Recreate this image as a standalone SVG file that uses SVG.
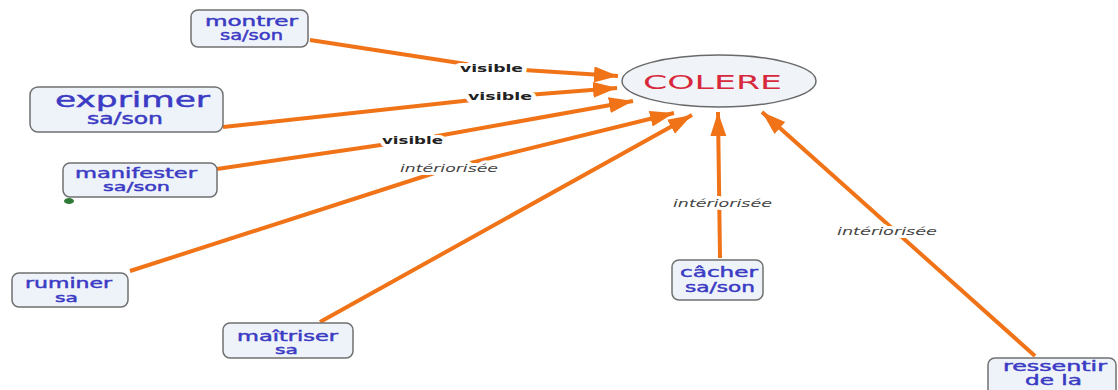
<svg xmlns="http://www.w3.org/2000/svg" width="1118" height="390" viewBox="0 0 1118 390">
<defs>
<marker id="arr" markerUnits="userSpaceOnUse" markerWidth="26" markerHeight="18" refX="24" refY="8" orient="auto"><path d="M0,0 L24,8 L0,16 z" fill="#f07318"/></marker>
<style>
.box{fill:#eef3f9;stroke:#707070;stroke-width:1.5}
.nt{font-family:"DejaVu Sans",Verdana,sans-serif;fill:#3b3bc4;stroke:#3b3bc4;stroke-width:0.45;text-anchor:start}
.ln{fill:none;stroke:#f07318;stroke-width:4;stroke-linejoin:round;marker-end:url(#arr)}
.lb{font-family:"DejaVu Sans",Verdana,sans-serif;font-size:11px;fill:#222;stroke:#fff;stroke-width:6;paint-order:stroke;stroke-linejoin:round}
.vis{font-weight:bold}
.int{font-style:italic;fill:#444}
</style>
</defs>
<rect width="1118" height="390" fill="#fff"/>
<g id="connectors">
<path class="ln" d="M310,40 L492,68 L618,76"/>
<path class="ln" d="M223,127 L500,97 L617,88"/>
<path class="ln" d="M217,169 L415,140 L633,101"/>
<path class="ln" d="M130,271 L450,168 L674,113"/>
<path class="ln" d="M320,322 L692,115"/>
<path class="ln" d="M720,258 L718,112"/>
<path class="ln" d="M1035,356 L762,112"/>
<text class="lb vis" x="460" y="72" textLength="63" lengthAdjust="spacingAndGlyphs">visible</text>
<text class="lb vis" x="468" y="100" textLength="64" lengthAdjust="spacingAndGlyphs">visible</text>
<text class="lb vis" x="382" y="144" textLength="61" lengthAdjust="spacingAndGlyphs">visible</text>
<text class="lb int" x="400" y="172" textLength="98" lengthAdjust="spacingAndGlyphs">intériorisée</text>
<text class="lb int" x="673" y="207" textLength="99" lengthAdjust="spacingAndGlyphs">intériorisée</text>
<text class="lb int" x="837" y="235" textLength="100" lengthAdjust="spacingAndGlyphs">intériorisée</text>
</g>
<g id="colere">
<ellipse cx="719" cy="81" rx="97" ry="26" fill="#f0f4f8" stroke="#6a6a6a" stroke-width="1.5"/>
<text x="643" y="89" font-family="DejaVu Sans,Verdana,sans-serif" font-size="20" fill="#d8283c" textLength="139" lengthAdjust="spacingAndGlyphs">COLERE</text>
</g>
<g id="montrer">
<rect class="box" x="191" y="10" width="117" height="37" rx="7"/>
<text class="nt" x="205" y="26" font-size="14" textLength="93" lengthAdjust="spacingAndGlyphs">montrer</text>
<text class="nt" x="220" y="40" font-size="14" textLength="63" lengthAdjust="spacingAndGlyphs">sa/son</text>
</g>
<g id="exprimer">
<rect class="box" x="30" y="87" width="193" height="45" rx="8"/>
<text class="nt" x="55" y="107" font-size="22" textLength="155" lengthAdjust="spacingAndGlyphs">exprimer</text>
<text class="nt" x="87" y="124" font-size="15" textLength="76" lengthAdjust="spacingAndGlyphs">sa/son</text>
</g>
<g id="manifester">
<rect class="box" x="63" y="163" width="154" height="34" rx="7"/>
<ellipse cx="69" cy="201" rx="5" ry="3" fill="#2e7a36"/>
<text class="nt" x="75" y="178" font-size="14" textLength="122" lengthAdjust="spacingAndGlyphs">manifester</text>
<text class="nt" x="103" y="191" font-size="13" textLength="67" lengthAdjust="spacingAndGlyphs">sa/son</text>
</g>
<g id="ruminer">
<rect class="box" x="12" y="273" width="116" height="34" rx="7"/>
<text class="nt" x="25" y="288" font-size="14" textLength="87" lengthAdjust="spacingAndGlyphs">ruminer</text>
<text class="nt" x="55" y="302" font-size="13" textLength="23" lengthAdjust="spacingAndGlyphs">sa</text>
</g>
<g id="maitriser">
<rect class="box" x="223" y="323" width="130" height="35" rx="7"/>
<text class="nt" x="237" y="341" font-size="14" textLength="101" lengthAdjust="spacingAndGlyphs">maîtriser</text>
<text class="nt" x="275" y="354" font-size="13" textLength="23" lengthAdjust="spacingAndGlyphs">sa</text>
</g>
<g id="cacher">
<rect class="box" x="672" y="260" width="91" height="40" rx="7"/>
<text class="nt" x="680" y="277" font-size="14" textLength="78" lengthAdjust="spacingAndGlyphs">câcher</text>
<text class="nt" x="685" y="292" font-size="14" textLength="70" lengthAdjust="spacingAndGlyphs">sa/son</text>
</g>
<g id="ressentir">
<rect class="box" x="988" y="358" width="128" height="40" rx="7"/>
<text class="nt" x="1003" y="371" font-size="14" textLength="104" lengthAdjust="spacingAndGlyphs">ressentir</text>
<text class="nt" x="1025" y="385" font-size="14" textLength="57" lengthAdjust="spacingAndGlyphs">de la</text>
</g>
</svg>
